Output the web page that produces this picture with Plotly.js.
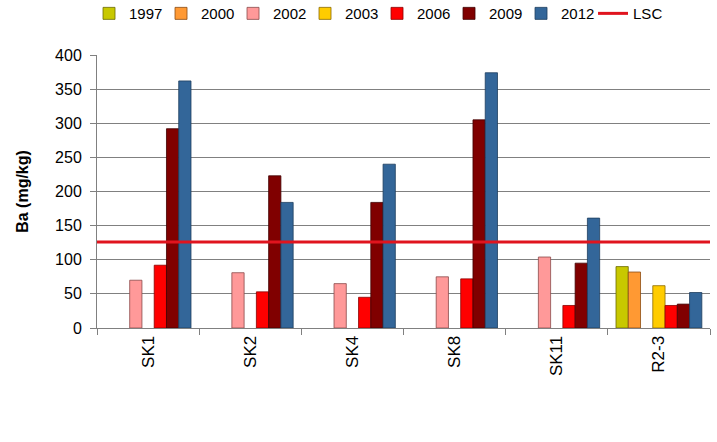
<!DOCTYPE html>
<html>
<head>
<meta charset="utf-8">
<script src="https://cdn.plot.ly/plotly-3.0.1.min.js"></script>
<style>html,body{margin:0;padding:0;background:#fff;}#chart{width:717px;height:442px;}</style>
</head>
<body>
<div id="chart"></div>
<script>
const sites = ["SK1", "SK2", "SK4", "SK8", "SK11", "R2-3"];
const years = ["1997", "2000", "2002", "2003", "2006", "2009", "2012"];
const v1997 = [null, null, null, null, null, 90];
const v2000 = [null, null, null, null, null, 82];
const v2002 = [70, 81, 65, 75, 104, null];
const v2003 = [null, null, null, null, null, 62];
const v2006 = [92, 53, 45, 72, 33, 33];
const v2009 = [292, 223, 184, 305, 95, 35];
const v2012 = [362, 184, 240, 374, 161, 52];
const lscValue = 126;
const lscLabel = "LSC";
const yTitle = "Ba (mg/kg)";

const seriesValues = [v1997, v2000, v2002, v2003, v2006, v2009, v2012];
const colors = ["#c8c800", "#ff9933", "#ff9999", "#ffcc00", "#ff0000", "#800000", "#336699"];
const lineColors = ["#6b6b00", "#8a4a10", "#8a4a4a", "#8a6a00", "#8a0000", "#400000", "#1d3d5e"];
const FONT = "Liberation Sans, Arial, sans-serif";

const traces = years.map((yr, i) => ({
  type: "bar",
  name: yr,
  x: sites,
  y: seriesValues[i],
  marker: {color: colors[i], line: {color: lineColors[i], width: 0.8}},
  hoverinfo: "x+y+name"
}));
traces.push({
  type: "scatter",
  mode: "lines",
  name: lscLabel,
  x: [0, 1],
  y: [lscValue, lscValue],
  xaxis: "x2",
  line: {color: "#e0141e", width: 3}
});

const layout = {
  width: 717, height: 442,
  margin: {l: 97, r: 7, t: 55, b: 114, autoexpand: false},
  paper_bgcolor: "#fff", plot_bgcolor: "#fff",
  font: {family: FONT, size: 16, color: "#000"},
  barmode: "group",
  bargap: 0.16,
  bargroupgap: 0,
  showlegend: true,
  legend: {
    orientation: "h", x: -0.013, xanchor: "left", y: 1.212, yanchor: "top",
    font: {family: FONT, size: 15, color: "#000"},
    entrywidth: 27, entrywidthmode: "pixels",
    traceorder: "normal", itemwidth: 30, bgcolor: "rgba(0,0,0,0)"
  },
  xaxis: {
    type: "category",
    tickangle: -90,
    tickson: "boundaries",
    ticks: "outside", ticklen: 6, tickcolor: "#808080",
    showline: true, linecolor: "#808080", linewidth: 1,
    showgrid: false,
    tickfont: {family: FONT, size: 17, color: "#000"},
    fixedrange: true
  },
  xaxis2: {overlaying: "x", range: [0, 1], visible: false, fixedrange: true},
  yaxis: {
    range: [0, 400],
    dtick: 50,
    ticks: "outside", ticklen: 6, tickcolor: "#808080",
    ticklabelstandoff: 5,
    showline: true, linecolor: "#808080", linewidth: 1,
    showgrid: true, gridcolor: "#808080", gridwidth: 1,
    zeroline: false,
    tickfont: {family: FONT, size: 16, color: "#000"},
    title: {text: "<b>" + yTitle + "</b>", font: {family: FONT, size: 16, color: "#000"}, standoff: 22},
    fixedrange: true
  }
};

Plotly.newPlot("chart", traces, layout, {displayModeBar: false, staticPlot: true});
</script>
</body>
</html>
